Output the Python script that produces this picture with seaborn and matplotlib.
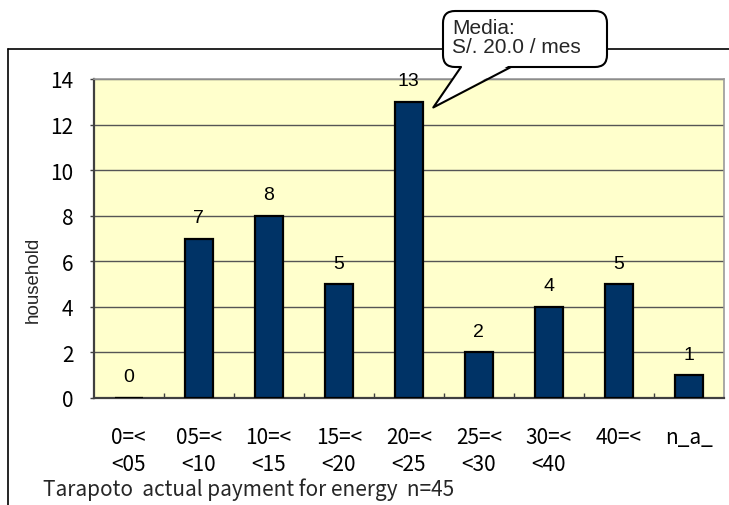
import matplotlib
matplotlib.use("Agg")
import matplotlib.pyplot as plt
import seaborn as sns
import numpy as np
import pandas as pd
from matplotlib.lines import Line2D
from matplotlib.patches import FancyBboxPatch, Polygon
from matplotlib.transforms import IdentityTransform

# Monthly energy payment ranges (S/.) and household counts
categories = ["0=<\n<05", "05=<\n<10", "10=<\n<15", "15=<\n<20", "20=<\n<25",
              "25=<\n<30", "30=<\n<40", "40=<", "n_a_"]
households = [0, 7, 8, 5, 13, 2, 4, 5, 1]
y_ticks = [0, 2, 4, 6, 8, 10, 12, 14]
title = "Tarapoto  actual payment for energy  n=45"
callout = "Media:\nS/. 20.0 / mes"
mean_bin = 4  # bar the callout points to

df = pd.DataFrame({"range": categories, "households": households})

sns.set_theme(style="white")
JP = ["Noto Sans CJK JP", "DejaVu Sans"]
AR = ["Liberation Sans", "DejaVu Sans"]

W, H = 729, 506
fig = plt.figure(figsize=(W / 100, H / 100), dpi=100)
fig.patch.set_facecolor("white")
ax = fig.add_axes([93.5 / W, 1 - 399 / H, (724 - 93.5) / W, (399 - 80) / H])
ax.set_facecolor("#FFFFCC")

sns.barplot(data=df, x="range", y="households", color="#003366", saturation=1,
            edgecolor="black", linewidth=1.6, width=0.4, ax=ax, zorder=3)

ax.set_xlim(-0.5, len(categories) - 0.5)
ax.set_ylim(0, 14)
ax.set_yticks(y_ticks)
ax.set_yticklabels([str(v) for v in y_ticks], family=JP, fontsize=15)
ax.set_xticks(range(len(categories)))
ax.set_xticklabels(categories, family=JP, fontsize=15, linespacing=1.3)
ax.set_xticks(np.arange(0.5, len(categories) - 1, 1), minor=True)
ax.tick_params(axis="x", which="major", length=0, pad=20, colors="black")
ax.tick_params(axis="x", which="minor", direction="in", length=3.5, width=1,
               color="#404040", bottom=True)
ax.tick_params(axis="y", which="major", direction="out", length=3, width=1,
               color="#404040", pad=11.5, left=True)
ax.tick_params(axis="y", labelcolor="black")
ax.yaxis.grid(True, color="#555555", linewidth=1)
ax.set_axisbelow(True)
ax.set_xlabel("")
ax.set_ylabel("")

for side in ("left", "bottom"):
    ax.spines[side].set_color("#404040")
    ax.spines[side].set_linewidth(1.6)
for side in ("top", "right"):
    ax.spines[side].set_color("#999999")
    ax.spines[side].set_linewidth(1.2)

ax.bar_label(ax.containers[0], labels=[str(v) for v in households], padding=9,
             fontsize=14, family=AR, color="black")

fig.text(33 / W, 1 - 280 / H, "household", rotation=90, ha="center", va="center",
         fontsize=13.5, family=AR)
fig.text(43 / W, 1 - 490 / H, title, ha="left", va="center", fontsize=15, family=JP)

# outer chart frame (top and left edges)
fig.add_artist(Line2D([8 / W, 8 / W], [0, 1 - 50 / H], transform=fig.transFigure,
                      color="black", linewidth=1.2, zorder=1))
fig.add_artist(Line2D([8 / W, 1], [1 - 50 / H, 1 - 50 / H], transform=fig.transFigure,
                      color="black", linewidth=1.2, zorder=1))

# speech-bubble callout pointing at the mean bin
fig.canvas.draw()
bx0, by0, bw, bh = 443, H - 68, 164, 56
box = FancyBboxPatch((bx0, by0), bw, bh, boxstyle="round,pad=0,rounding_size=12",
                     transform=IdentityTransform(), facecolor="white",
                     edgecolor="black", linewidth=1.5, zorder=10)
fig.add_artist(box)
tip = ax.transData.transform((mean_bin + 0.35, households[mean_bin] - 0.25))
base_l, base_r = (461, by0), (511, by0)
fig.add_artist(Polygon([(base_l[0] + 1, by0 + 2), tuple(tip), (base_r[0] - 1, by0 + 2)],
                       closed=True, transform=IdentityTransform(), facecolor="white",
                       edgecolor="none", zorder=11))
fig.add_artist(Line2D([base_l[0], tip[0], base_r[0]], [base_l[1], tip[1], base_r[1]],
                      transform=IdentityTransform(), color="black", linewidth=1.5,
                      zorder=12))
fig.text(452 / W, 1 - 38 / H, callout, ha="left", va="center", fontsize=15,
         family=AR, linespacing=1.05, zorder=13)

fig.savefig("out.png", dpi=100)
